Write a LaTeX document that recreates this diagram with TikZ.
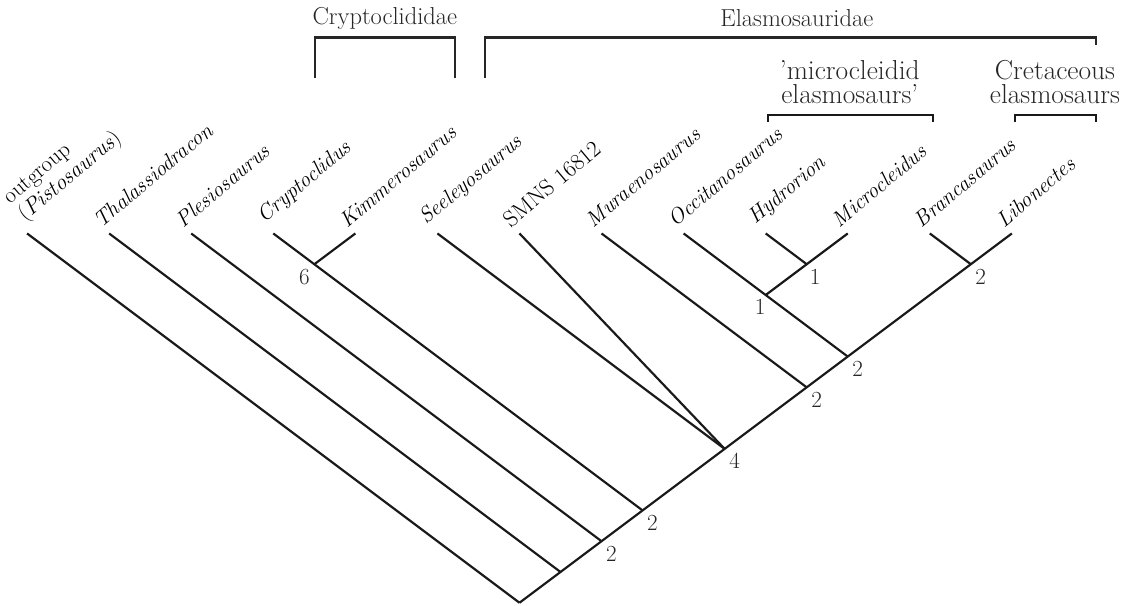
\documentclass[tikz,border=0pt]{standalone}
\usepackage{amsmath}
\usepackage{xcolor}
\usepackage{tikz}

\begin{document}
\begin{tikzpicture}[font=\fontsize{16}{17}\selectfont,
    branch/.style={line width=1.5pt, black!90},
    clade/.style={line width=1.8pt, black!85},
    cladename/.style={align=center, font=\fontsize{19}{17}\selectfont, black!85},
    taxon/.style={rotate=40, anchor=south west, inner sep=0pt, xshift=-2pt, yshift=6pt, font=\fontsize{15}{17}\selectfont\itshape},
    num/.style={inner sep=3pt, black!85}]
        \useasboundingbox (-0.66,-0.07) rectangle (26.83,14.69);

        % Tips
        \coordinate (outg) at (0,9);
        \coordinate (thal) at (2,9);
        \coordinate (ples) at (4,9);
        \coordinate (cryp) at (6,9);
        \coordinate (kimm) at (8,9);
        \coordinate (seel) at (10,9);
        \coordinate (smns) at (12,9);
        \coordinate (mura) at (14,9);
        \coordinate (occi) at (16,9);
        \coordinate (hydr) at (18,9);
        \coordinate (micr) at (20,9);
        \coordinate (bran) at (22,9);
        \coordinate (libo) at (24,9);

        % Taxon names
        \node[taxon, font=\fontsize{15.5}{16}\selectfont, align=left, xshift=6pt, yshift=-3pt] (outgT) at (outg)
            {outgroup\\(\textit{Pistosaurus})};
        \node[taxon] (thalT) at (thal) {Thalassiodracon};
        \node[taxon] (plesT) at (ples) {Plesiosaurus};
        \node[taxon, xshift=2pt] (crypT) at (cryp) {Cryptoclidus};
        \node[taxon] (kimmT) at (kimm) {Kimmerosaurus};
        \node[taxon] (seelT) at (seel) {Seeleyosaurus};
        \node[taxon, font=\fontsize{16}{17}\selectfont] (smnsT) at (smns) {SMNS 16812};
        \node[taxon] (muraT) at (mura) {Muraenosaurus};
        \node[taxon] (occiT) at (occi) {Occitanosaurus};
        \node[taxon] (hydrT) at (hydr) {Hydrorion};
        \node[taxon] (micrT) at (micr) {Microcleidus};
        \node[taxon] (branT) at (bran) {Brancasaurus};
        \node[taxon] (liboT) at (libo) {Libonectes};

        % Internal nodes
        \coordinate (root) at (12,0);
        \coordinate (n1) at (13,0.75);
        \coordinate (n2) at (14,1.5);
        \coordinate (n3) at (15,2.25);
        \coordinate (n4) at (17,3.75);
        \coordinate (n5) at (19,5.25);
        \coordinate (n6) at (20,6);
        \coordinate (cK) at (7,8.25);
        \coordinate (cO) at (18,7.5);
        \coordinate (cH) at (19,8.25);
        \coordinate (cB) at (23,8.25);

        % Branches
        \draw[branch] (root) -- (libo);
        \draw[branch] (outg) -- (root);
        \draw[branch] (thal) -- (n1);
        \draw[branch] (ples) -- (n2);
        \draw[branch] (cryp) -- (n3);
        \draw[branch] (kimm) -- (cK);
        \draw[branch] (seel) -- (n4);
        \draw[branch] (smns) -- (n4);
        \draw[branch] (mura) -- (n5);
        \draw[branch] (occi) -- (n6);
        \draw[branch] (micr) -- (cO);
        \draw[branch] (hydr) -- (cH);
        \draw[branch] (bran) -- (cB);

        % Support values
        \node[num, below right] (s2) at (n2) {2};
        \node[num, below right] (s3) at (n3) {2};
        \node[num, below right] (s4) at (n4) {4};
        \node[num, below right] (s5) at (n5) {2};
        \node[num, below right] (s6) at (n6) {2};
        \node[num, below left] (sK) at (cK) {6};
        \node[num, below left, xshift=3pt] (sO) at (cO) {1};
        \node[num, below right, xshift=-1pt] (sH) at (cH) {1};
        \node[num, below right] (sB) at (cB) {2};

        % Clades
        \node[cladename, font=\fontsize{17}{17}\selectfont] (cryptoL) at (8.72,14.25) {Cryptoclididae};
        \draw[clade] (7.02,12.79) |- (10.43,13.77) -- (10.43,12.79);
        \node[cladename, font=\fontsize{17}{17}\selectfont] (elasL) at (18.76,14.25) {Elasmosauridae};
        \draw[clade] (11.16,12.79) |- (26.05,13.77) -- (26.05,13.6);
        \node[cladename] (microL) at (20.05,12.69) {'microcleidid\\elasmosaurs'};
        \draw[branch] (18.06,11.72) |- (22.08,11.89) -- (22.08,11.72);
        \node[cladename] (cretL) at (25.05,12.69) {Cretaceous\\elasmosaurs};
        \draw[branch] (24.07,11.72) |- (26.05,11.89) -- (26.05,11.72);
    \end{tikzpicture}
\end{document}
